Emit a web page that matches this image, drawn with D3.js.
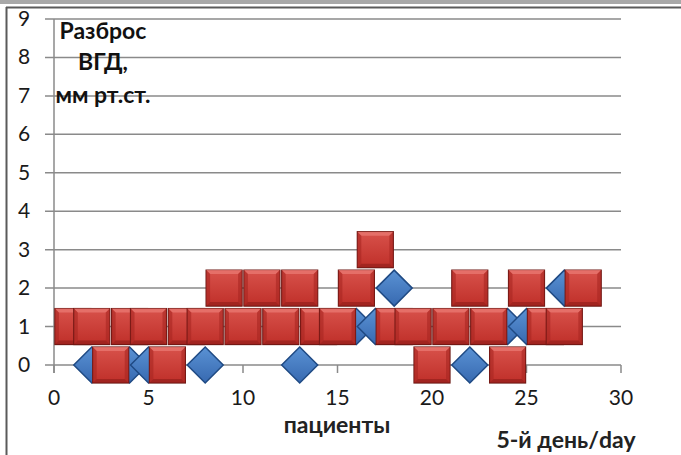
<!DOCTYPE html>
<html>
<head>
<meta charset="utf-8">
<script src="https://cdn.jsdelivr.net/npm/d3@7"></script>
<style>
  body { margin: 0; background: #fff; }
  svg { display: block; }
</style>
</head>
<body>
<div id="chart"></div>
<script>
// значения: номер пациента / разброс ВГД
const redX = [1, 2, 3, 4, 5, 6, 7, 8, 9, 10, 11, 12, 13, 14, 15, 16, 17, 18, 19, 20, 21, 22, 23, 24, 25, 26, 27, 28];
const redY = [1, 1, 0, 1, 1, 0, 1, 1, 2, 1, 2, 1, 2, 1, 1, 2, 3, 1, 1, 0, 1, 2, 1, 0, 2, 1, 1, 2];
const blueX = [2, 4, 5, 8, 13, 16, 17, 18, 22, 24, 25, 27];
const blueY = [0, 0, 0, 0, 0, 1, 1, 2, 0, 1, 1, 2];
const xTicks = [0, 5, 10, 15, 20, 25, 30];
const yTicks = [0, 1, 2, 3, 4, 5, 6, 7, 8, 9];
const titleLines = ["Разброс", "ВГД,", "мм рт.ст."];

const width = 681, height = 455;
const MARK = 36;
const FONT = "Lato, 'Open Sans', sans-serif";

const svg = d3.select("#chart").append("svg")
  .attr("width", width)
  .attr("height", height);

const defs = svg.append("defs");
const rg = defs.append("linearGradient").attr("id", "redGrad").attr("x1", 0).attr("y1", 0).attr("x2", 0).attr("y2", 1);
rg.append("stop").attr("offset", "0%").attr("stop-color", "#d8524b");
rg.append("stop").attr("offset", "100%").attr("stop-color", "#bf2f29");
const bg = defs.append("linearGradient").attr("id", "blueGrad").attr("x1", 0).attr("y1", 0).attr("x2", 0).attr("y2", 1);
bg.append("stop").attr("offset", "0%").attr("stop-color", "#5a92d4");
bg.append("stop").attr("offset", "100%").attr("stop-color", "#3769b0");

// рамка картинки
svg.append("rect").attr("x", 0).attr("y", 0).attr("width", width).attr("height", 4).attr("fill", "#a8a8a8");
svg.append("line").attr("x1", 6).attr("x2", width).attr("y1", 7.5).attr("y2", 7.5)
  .attr("stroke", "#5a5a5a").attr("stroke-width", 2);
svg.append("line").attr("x1", 6.5).attr("x2", 6.5).attr("y1", 7).attr("y2", height)
  .attr("stroke", "#5a5a5a").attr("stroke-width", 2);

const x = d3.scaleLinear().domain([0, 30]).range([54, 621]);
const y = d3.scaleLinear().domain([0, 9]).range([365, 19]);

// сетка
svg.append("g")
  .selectAll("line")
  .data(yTicks)
  .join("line")
  .attr("x1", 45)
  .attr("x2", x(30))
  .attr("y1", d => y(d))
  .attr("y2", d => y(d))
  .attr("stroke", "#8a8a8a")
  .attr("stroke-width", 1.5);

svg.append("line")
  .attr("x1", x(0)).attr("x2", x(0))
  .attr("y1", y(9)).attr("y2", y(0) + 8)
  .attr("stroke", "#8a8a8a").attr("stroke-width", 1.5);

svg.append("g")
  .selectAll("line")
  .data(xTicks)
  .join("line")
  .attr("x1", d => x(d)).attr("x2", d => x(d))
  .attr("y1", y(0)).attr("y2", y(0) + 8)
  .attr("stroke", "#8a8a8a").attr("stroke-width", 1.5);

svg.append("g")
  .selectAll("text")
  .data(yTicks)
  .join("text")
  .attr("x", 24)
  .attr("y", d => y(d) + 7)
  .attr("text-anchor", "middle")
  .style("font", `21px ${FONT}`)
  .attr("fill", "#1a1a1a")
  .text(d => d);

svg.append("g")
  .selectAll("text")
  .data(xTicks)
  .join("text")
  .attr("x", d => x(d))
  .attr("y", 405)
  .attr("text-anchor", "middle")
  .style("font", `21px ${FONT}`)
  .attr("fill", "#1a1a1a")
  .text(d => d);

// ромбы (синяя серия)
const blue = blueX.map((v, i) => ({ x: v, y: blueY[i] }));
const h = MARK / 2;
svg.append("g")
  .selectAll("path")
  .data(blue)
  .join("path")
  .attr("transform", d => `translate(${x(d.x)},${y(d.y)})`)
  .attr("d", `M0,${-h}L${h},0L0,${h}L${-h},0Z`)
  .attr("fill", "url(#blueGrad)")
  .attr("stroke", "#1f4a84")
  .attr("stroke-width", 1.5);

// квадраты (красная серия), с фаской
const red = redX.map((v, i) => ({ x: v, y: redY[i] }));
const b = 4;
const sq = svg.append("g")
  .selectAll("g")
  .data(red)
  .join("g")
  .attr("transform", d => `translate(${x(d.x) - h},${y(d.y) - h})`);

sq.append("rect")
  .attr("width", MARK).attr("height", MARK)
  .attr("fill", "url(#redGrad)")
  .attr("stroke", "#6a1612")
  .attr("stroke-width", 1.2);
sq.append("path")
  .attr("d", `M0,0L${MARK},0L${MARK - b},${b}L${b},${b}Z`)
  .attr("fill", "#e87770").attr("opacity", 0.8);
sq.append("path")
  .attr("d", `M0,0L${b},${b}L${b},${MARK - b}L0,${MARK}Z`)
  .attr("fill", "#a82621").attr("opacity", 0.6);
sq.append("path")
  .attr("d", `M${MARK},0L${MARK - b},${b}L${MARK - b},${MARK - b}L${MARK},${MARK}Z`)
  .attr("fill", "#a82621").attr("opacity", 0.6);
sq.append("path")
  .attr("d", `M0,${MARK}L${b},${MARK - b}L${MARK - b},${MARK - b}L${MARK},${MARK}Z`)
  .attr("fill", "#8e1d19").attr("opacity", 0.6);

// подписи
svg.append("g")
  .selectAll("text")
  .data(titleLines)
  .join("text")
  .attr("x", 103)
  .attr("y", (d, i) => [39, 70, 103][i])
  .attr("text-anchor", "middle")
  .style("font", `bold 23px ${FONT}`)
  .attr("fill", "#111")
  .text(d => d);

svg.append("text")
  .attr("x", 337)
  .attr("y", 433)
  .attr("text-anchor", "middle")
  .style("font", `bold 23px ${FONT}`)
  .attr("fill", "#222")
  .text("пациенты");

svg.append("text")
  .attr("x", 566)
  .attr("y", 448)
  .attr("text-anchor", "middle")
  .style("font", `bold 23px ${FONT}`)
  .attr("fill", "#222")
  .text("5-й день/day");
</script>
</body>
</html>
